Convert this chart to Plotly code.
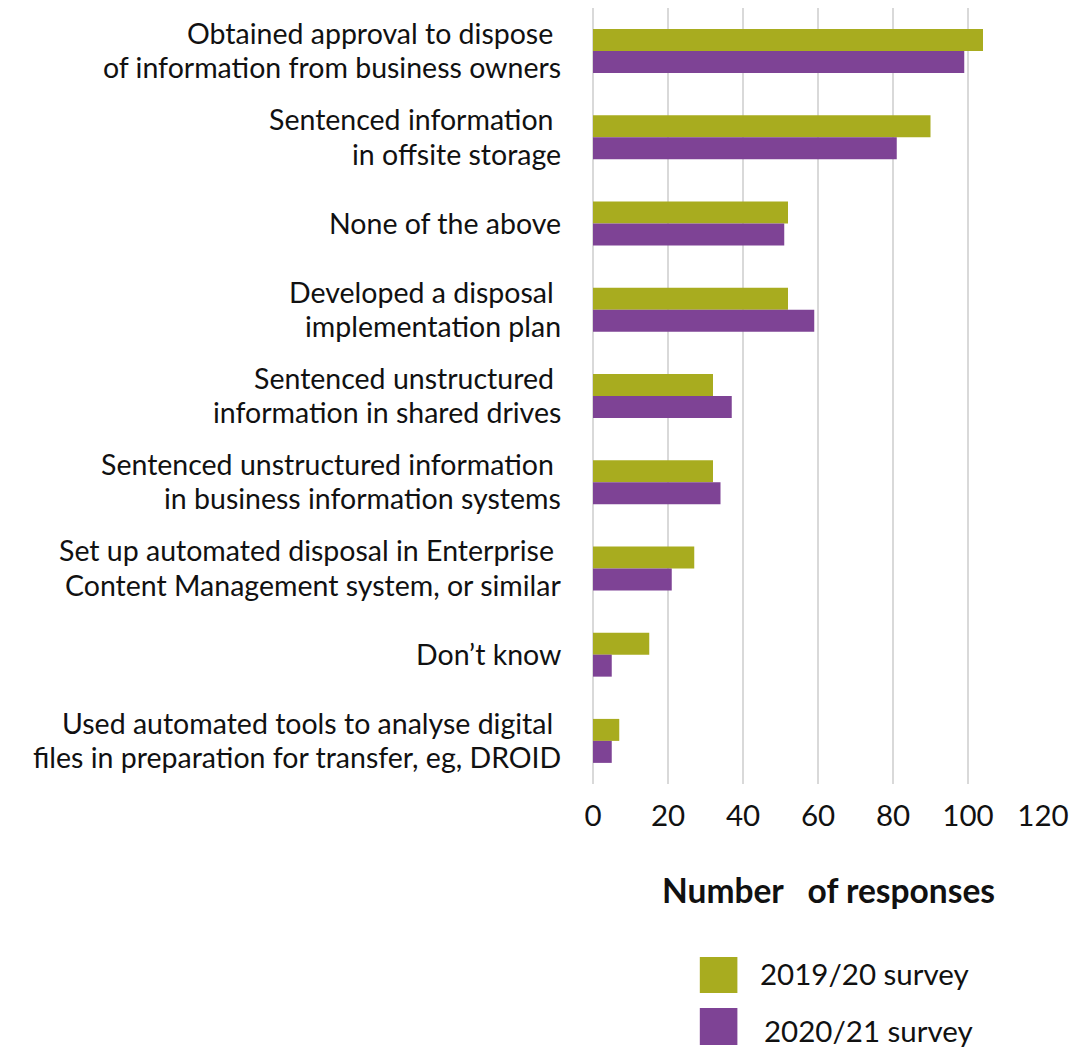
import plotly.graph_objects as go

# Survey responses: disposal activities undertaken
categories = [
    "Obtained approval to dispose\u00a0<br>of information from business owners",
    "Sentenced information\u00a0<br>in offsite storage",
    "None of the above",
    "Developed a disposal\u00a0<br>implementation plan",
    "Sentenced unstructured\u00a0<br>information in shared drives",
    "Sentenced unstructured information\u00a0<br>in business information systems",
    "Set up automated disposal in Enterprise\u00a0<br>Content Management system, or similar",
    "Don\u2019t know",
    "Used automated tools to analyse digital\u00a0<br>files in preparation for transfer, eg, DROID",
]
survey_2019_20 = [104, 90, 52, 52, 32, 32, 27, 15, 7]
survey_2020_21 = [99, 81, 51, 59, 37, 34, 21, 5, 5]
series_names = ["2019/20 survey", "2020/21 survey"]
x_ticks = [0, 20, 40, 60, 80, 100, 120]

GREEN = "#A8AC1F"
PURPLE = "#7E4395"
FONT = "Lato, 'Open Sans', sans-serif"
TEXT = "#111111"
W, H = 1077, 1047
M_L, M_R, M_T, M_B = 593, 29, 8, 263
PW, PH = W - M_L - M_R, H - M_T - M_B


def px_x(px):
    return (px - M_L) / PW


def px_y(py):
    return (H - M_B - py) / PH


keys = [f"c{i}" for i in range(len(categories))]

fig = go.Figure()
fig.add_trace(go.Bar(y=keys, x=survey_2019_20, orientation="h", name=series_names[0],
                     marker=dict(color=GREEN, line=dict(width=0))))
fig.add_trace(go.Bar(y=keys, x=survey_2020_21, orientation="h", name=series_names[1],
                     marker=dict(color=PURPLE, line=dict(width=0))))

# category labels: one annotation per line, stacked around the category centre
annotations = []
LABEL_SIZE = 28.5
LINE_H = 34.5
for key, label in zip(keys, categories):
    lines = label.split("<br>")
    n = len(lines)
    for j, line in enumerate(lines):
        offset = ((n - 1) / 2 - j) * LINE_H
        annotations.append(dict(
            x=0, xref="paper", y=key, yref="y", text=line, showarrow=False,
            xanchor="right", yanchor="middle", borderpad=0,
            xshift=-31, yshift=offset + 1,
            font=dict(family=FONT, size=LABEL_SIZE, color=TEXT),
        ))

annotations.append(dict(
    x=px_x(831), y=px_y(890), xref="paper", yref="paper",
    text="<b>Number\u00a0\u00a0 of responses</b>", showarrow=False,
    xanchor="center", yanchor="middle",
    font=dict(family=FONT, size=33.5, color=TEXT),
))

shapes = []
legend_rows = [(957, 993, 973, 760), (1008, 1045, 1030, 764)]
for (y0, y1, ty, tx), name, col in zip(legend_rows, series_names, [GREEN, PURPLE]):
    shapes.append(dict(type="rect", xref="paper", yref="paper",
                       x0=px_x(701), x1=px_x(739), y0=px_y(y1), y1=px_y(y0),
                       fillcolor=col, line=dict(width=0)))
    annotations.append(dict(
        x=px_x(tx), y=px_y(ty), xref="paper", yref="paper", text=name,
        showarrow=False, xanchor="left", yanchor="middle",
        font=dict(family=FONT, size=29.5, color=TEXT),
    ))

fig.update_layout(
    width=W, height=H,
    margin=dict(l=M_L, r=M_R, t=M_T, b=M_B, pad=0),
    paper_bgcolor="white", plot_bgcolor="white",
    barmode="group", bargap=0.49, bargroupgap=0,
    showlegend=False,
    font=dict(family=FONT, size=29.5, color=TEXT),
    annotations=annotations, shapes=shapes,
)
fig.update_xaxes(
    range=[0, 120], tickvals=x_ticks, showgrid=True, gridcolor="#D9D9D9", gridwidth=2,
    zeroline=True, zerolinecolor="#D9D9D9", zerolinewidth=2, showline=False,
    tickfont=dict(family=FONT, size=29.5, color=TEXT), ticklabelstandoff=11,
)
fig.update_yaxes(
    categoryorder="array", categoryarray=keys, autorange="reversed",
    showticklabels=False, showgrid=False, zeroline=False, showline=False,
)

fig.write_html("out.html")
